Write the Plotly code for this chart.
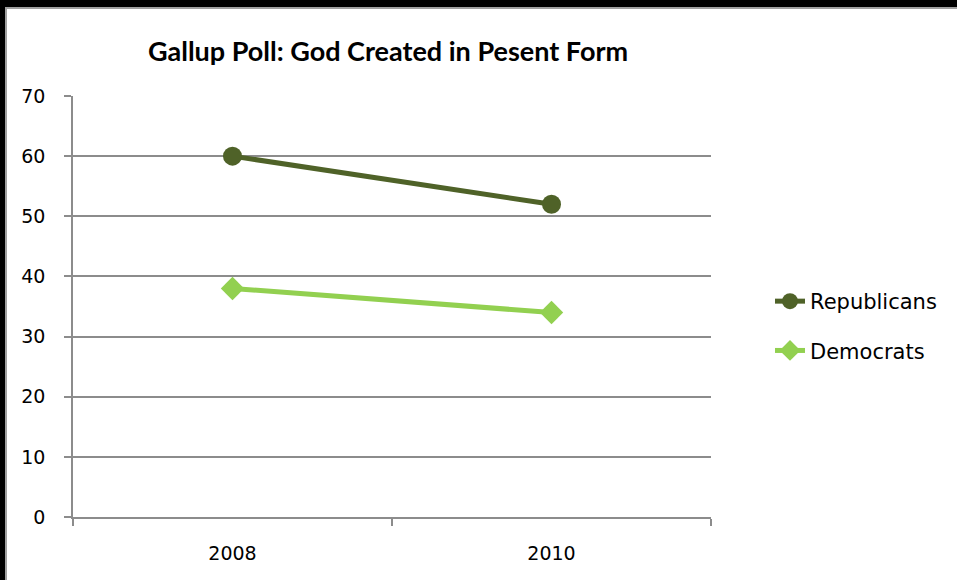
import plotly.graph_objects as go

years = ["2008", "2010"]
republicans = [60, 52]
democrats = [38, 34]
y_ticks = [0, 10, 20, 30, 40, 50, 60, 70]
title_text = "Gallup Poll: God Created in Pesent Form"

W, H = 957, 580
L, R, T, B = 73, 246, 96, 63
PW = W - L - R
PH = H - T - B

def px_x(p):
    return (p - L) / PW

def px_y(p):
    return (H - B - p) / PH

fig = go.Figure()
fig.add_trace(go.Scatter(
    x=years, y=republicans, name="Republicans", mode="lines+markers",
    line=dict(color="#4F6228", width=5),
    marker=dict(symbol="circle", size=19, color="#4F6228"),
    legendgroup="r",
))
fig.add_trace(go.Scatter(
    x=years, y=democrats, name="Democrats", mode="lines+markers",
    line=dict(color="#92D050", width=5),
    marker=dict(symbol="diamond", size=18, color="#92D050"),
    legendgroup="d",
))

grid = "#8c8c8c"
fig.update_layout(
    width=W, height=H,
    margin=dict(l=L, r=R, t=T, b=B),
    paper_bgcolor="white", plot_bgcolor="white",
    title=dict(text="<b>" + title_text + "</b>", x=px_x(388), xref="paper",
               xanchor="center", y=1 - 52 / H, yanchor="middle",
               font=dict(family="Lato", size=27, color="black")),
    xaxis=dict(type="category", range=[-0.5, 1.5], tickson="boundaries",
               ticks="outside", ticklen=7, tickcolor=grid, tickwidth=1.5,
               showline=True, linecolor=grid, linewidth=1.5, showgrid=False,
               tickfont=dict(family="DejaVu Sans", size=19, color="black"),
               ticklabelstandoff=18, fixedrange=True),
    yaxis=dict(range=[0, 70], tickvals=y_ticks, ticks="outside", ticklen=7,
               tickcolor=grid, tickwidth=1.5, showline=True, linecolor=grid,
               linewidth=1.5, showgrid=True, gridcolor=grid, gridwidth=1.5,
               zeroline=False,
               tickfont=dict(family="DejaVu Sans", size=19, color="black"),
               ticklabelstandoff=15, fixedrange=True),
    legend=dict(x=px_x(770), xanchor="left", y=px_y(326), yanchor="middle",
                font=dict(family="DejaVu Sans", size=21, color="black"),
                tracegroupgap=19, bgcolor="rgba(0,0,0,0)"),
    showlegend=True,
    shapes=[
        dict(type="rect", xref="paper", yref="paper", x0=px_x(0), x1=px_x(W),
             y0=px_y(7), y1=px_y(0), fillcolor="black", line=dict(width=0), layer="above"),
        dict(type="rect", xref="paper", yref="paper", x0=px_x(0), x1=px_x(5),
             y0=px_y(H), y1=px_y(0), fillcolor="black", line=dict(width=0), layer="above"),
        dict(type="line", xref="paper", yref="paper", x0=px_x(5), x1=px_x(W),
             y0=px_y(8), y1=px_y(8), line=dict(color="#a0a0a0", width=2), layer="above"),
        dict(type="line", xref="paper", yref="paper", x0=px_x(6), x1=px_x(6),
             y0=px_y(H), y1=px_y(8), line=dict(color="#a0a0a0", width=2), layer="above"),
    ],
)

fig.write_html("out.html", config={"displayModeBar": False},
               post_script="document.body.style.margin='0';document.body.style.overflow='hidden';")
